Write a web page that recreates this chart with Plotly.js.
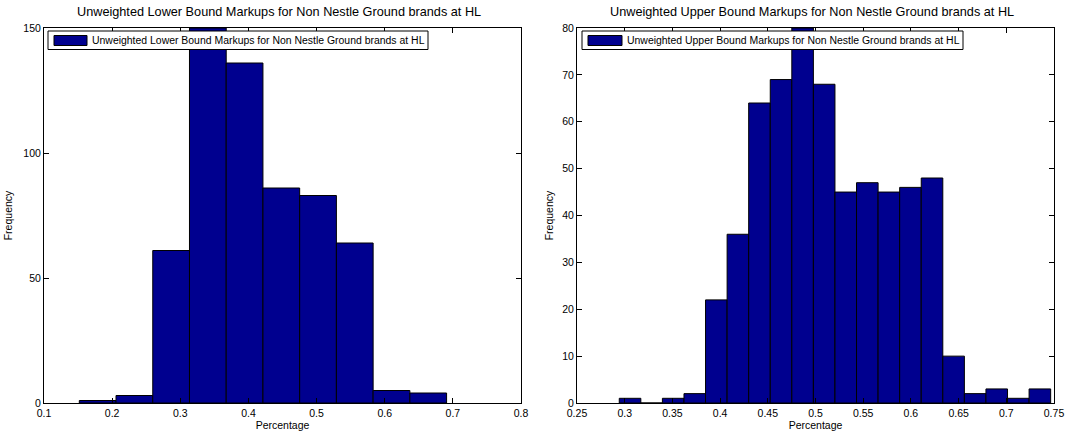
<!DOCTYPE html>
<html><head><meta charset="utf-8">
<script src="https://cdn.plot.ly/plotly-3.0.1.min.js"></script>
<style>html,body{margin:0;padding:0;background:#fff}</style>
</head><body>
<div id="c" style="width:1069px;height:436px"></div>
<script>
// ---- data ----
const leftTitle = 'Unweighted Lower Bound Markups for Non Nestle Ground brands at HL';
const rightTitle = 'Unweighted Upper Bound Markups for Non Nestle Ground brands at HL';
const leftCounts = [1, 3, 61, 150, 136, 86, 83, 64, 5, 4];
const leftBinStart = 0.1518;
const leftBinWidth = 0.0539;
const rightCounts = [1, 0, 1, 2, 22, 36, 64, 69, 80, 68, 45, 47, 45, 46, 48, 10, 2, 3, 1, 3];
const rightBinStart = 0.2943;
const rightBinWidth = 0.02261;
const leftXTicks = [0.1, 0.2, 0.3, 0.4, 0.5, 0.6, 0.7, 0.8];
const leftXTickLabels = ['0.1', '0.2', '0.3', '0.4', '0.5', '0.6', '0.7', '0.8'];
const leftYTicks = [0, 50, 100, 150];
const rightXTicks = [0.25, 0.3, 0.35, 0.4, 0.45, 0.5, 0.55, 0.6, 0.65, 0.7, 0.75];
const rightXTickLabels = ['0.25', '0.3', '0.35', '0.4', '0.45', '0.5', '0.55', '0.6', '0.65', '0.7', '0.75'];
const rightYTicks = [0, 10, 20, 30, 40, 50, 60, 70, 80];
const xLabel = 'Percentage';
const yLabel = 'Frequency';

// ---- layout helpers ----
const W = 1069, H = 436;
const M = {l: 44, r: 15, t: 28, b: 33};
const PW = W - M.l - M.r, PH = H - M.t - M.b;
const px = x => (x - M.l) / PW;
const py = y => (H - M.b - y) / PH;
const barColor = '#00008F';
const FONT = 'Liberation Sans, Arial, Helvetica, sans-serif';
const TICK = 10.5;

const centers = (start, w, n) => Array.from({length: n}, (_, i) => start + w * (i + 0.5));

const traces = [
  {type: 'bar', x: centers(leftBinStart, leftBinWidth, leftCounts.length), y: leftCounts,
   width: leftBinWidth, marker: {color: barColor, line: {color: '#000', width: 1}},
   xaxis: 'x', yaxis: 'y', showlegend: false, hoverinfo: 'skip'},
  {type: 'bar', x: centers(rightBinStart, rightBinWidth, rightCounts.length), y: rightCounts,
   width: rightBinWidth, marker: {color: barColor, line: {color: '#000', width: 1}},
   xaxis: 'x2', yaxis: 'y2', showlegend: false, hoverinfo: 'skip'}
];

const axBase = {
  showline: true, linecolor: '#000', linewidth: 1, mirror: 'ticks',
  ticks: 'inside', ticklen: 5, tickcolor: '#000', tickwidth: 1,
  showgrid: false, zeroline: false, tickfont: {family: FONT, size: TICK, color: '#000'},
  fixedrange: true
};

function legendBox(x0, x1, sx0, sx1, text) {
  return {
    shapes: [
      {type: 'rect', xref: 'paper', yref: 'paper', x0: px(x0), x1: px(x1), y0: py(49.5), y1: py(31),
       fillcolor: '#fff', line: {color: '#000', width: 1}, layer: 'above'},
      {type: 'rect', xref: 'paper', yref: 'paper', x0: px(sx0), x1: px(sx1), y0: py(45.5), y1: py(35.5),
       fillcolor: barColor, line: {color: '#000', width: 1}, layer: 'above'}
    ],
    ann: {xref: 'paper', yref: 'paper', x: px(sx1 + 3), y: py(40.5), xanchor: 'left', yanchor: 'middle',
          text: text, showarrow: false, font: {family: FONT, size: 10.45, color: '#000'}}
  };
}
const lgL = legendBox(48, 428, 54, 87, leftTitle);
const lgR = legendBox(582, 963, 588, 622, rightTitle);

const layout = {
  width: W, height: H, margin: M, paper_bgcolor: '#fff', plot_bgcolor: '#fff',
  showlegend: false, bargap: 0,
  xaxis: Object.assign({}, axBase, {domain: [0, px(521)], range: [0.1, 0.8],
    tickvals: leftXTicks, ticktext: leftXTickLabels,
    title: {text: xLabel, font: {family: FONT, size: TICK, color: '#000'}, standoff: 3}}),
  yaxis: Object.assign({}, axBase, {range: [0, 150], tickvals: leftYTicks,
    title: {text: yLabel, font: {family: FONT, size: TICK, color: '#000'}, standoff: 8}}),
  xaxis2: Object.assign({}, axBase, {domain: [px(577), 1], range: [0.25, 0.75], anchor: 'y2',
    tickvals: rightXTicks, ticktext: rightXTickLabels,
    title: {text: xLabel, font: {family: FONT, size: TICK, color: '#000'}, standoff: 3}}),
  yaxis2: Object.assign({}, axBase, {range: [0, 80], tickvals: rightYTicks, anchor: 'x2',
    title: {text: yLabel, font: {family: FONT, size: TICK, color: '#000'}, standoff: 6}}),
  shapes: [...lgL.shapes, ...lgR.shapes],
  annotations: [
    {xref: 'paper', yref: 'paper', x: px(279), y: py(12), xanchor: 'center', yanchor: 'middle',
     text: leftTitle, showarrow: false, font: {family: FONT, size: 12.7, color: '#000'}},
    {xref: 'paper', yref: 'paper', x: px(812), y: py(12), xanchor: 'center', yanchor: 'middle',
     text: rightTitle, showarrow: false, font: {family: FONT, size: 12.7, color: '#000'}},
    lgL.ann, lgR.ann
  ]
};

Plotly.newPlot('c', traces, layout, {staticPlot: true, displayModeBar: false});
</script>
</body></html>
